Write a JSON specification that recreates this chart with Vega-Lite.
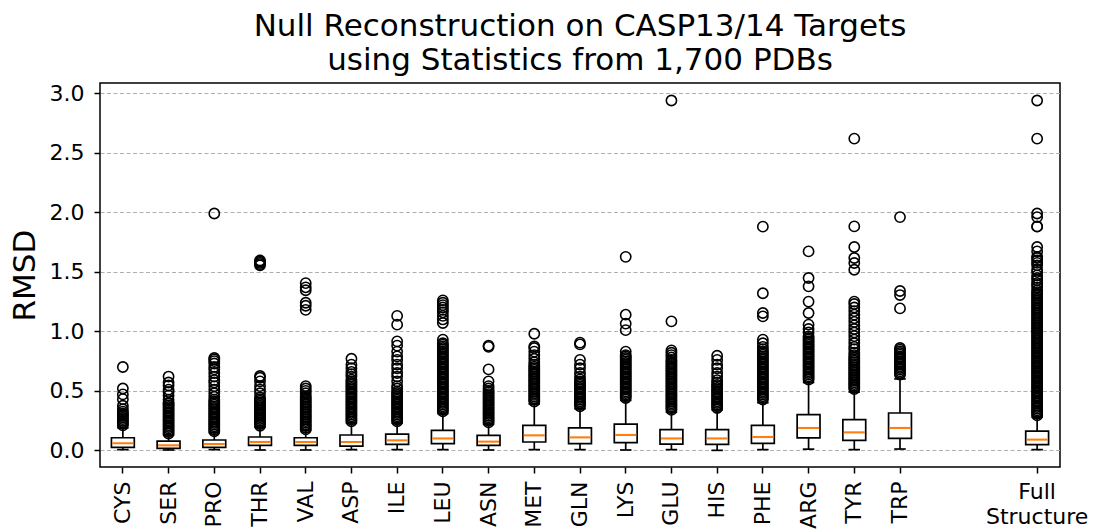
{
  "$schema": "https://vega.github.io/schema/vega-lite/v6.json",
  "autosize": {"type": "none"},
  "padding": {"left": 100, "top": 83, "right": 34, "bottom": 62},
  "width": 960,
  "height": 384,
  "config": {
    "font": "DejaVu Sans",
    "view": {"stroke": "black", "strokeWidth": 1.5},
    "axis": {"labelFont": "DejaVu Sans", "titleFont": "DejaVu Sans", "labelColor": "black", "titleColor": "black", "tickColor": "black", "domain": false}
  },
  "title": {
    "text": ["Null Reconstruction on CASP13/14 Targets", "using Statistics from 1,700 PDBs"],
    "fontSize": 31,
    "fontWeight": "normal",
    "font": "DejaVu Sans",
    "color": "black",
    "lineHeight": 34,
    "anchor": "middle",
    "offset": 5
  },
  "datasets": {
    "boxes": [
      {"residue": "CYS", "lo": 0.006, "q1": 0.025, "median": 0.059, "q3": 0.106, "hi": 0.19},
      {"residue": "SER", "lo": 0.003, "q1": 0.017, "median": 0.042, "q3": 0.078, "hi": 0.13},
      {"residue": "PRO", "lo": 0.006, "q1": 0.025, "median": 0.053, "q3": 0.087, "hi": 0.15},
      {"residue": "THR", "lo": 0.003, "q1": 0.042, "median": 0.07, "q3": 0.112, "hi": 0.195},
      {"residue": "VAL", "lo": 0.003, "q1": 0.042, "median": 0.07, "q3": 0.106, "hi": 0.17},
      {"residue": "ASP", "lo": 0.006, "q1": 0.036, "median": 0.07, "q3": 0.129, "hi": 0.23},
      {"residue": "ILE", "lo": 0.006, "q1": 0.05, "median": 0.084, "q3": 0.137, "hi": 0.23},
      {"residue": "LEU", "lo": 0.006, "q1": 0.056, "median": 0.1, "q3": 0.168, "hi": 0.31},
      {"residue": "ASN", "lo": 0.003, "q1": 0.042, "median": 0.073, "q3": 0.126, "hi": 0.22},
      {"residue": "MET", "lo": 0.006, "q1": 0.07, "median": 0.126, "q3": 0.21, "hi": 0.39},
      {"residue": "GLN", "lo": 0.006, "q1": 0.056, "median": 0.109, "q3": 0.188, "hi": 0.35},
      {"residue": "LYS", "lo": 0.003, "q1": 0.064, "median": 0.129, "q3": 0.22, "hi": 0.42},
      {"residue": "GLU", "lo": 0.006, "q1": 0.053, "median": 0.1, "q3": 0.174, "hi": 0.32},
      {"residue": "HIS", "lo": 0.0, "q1": 0.05, "median": 0.1, "q3": 0.174, "hi": 0.34},
      {"residue": "PHE", "lo": 0.006, "q1": 0.059, "median": 0.112, "q3": 0.21, "hi": 0.4},
      {"residue": "ARG", "lo": 0.01, "q1": 0.104, "median": 0.188, "q3": 0.3, "hi": 0.57},
      {"residue": "TYR", "lo": 0.006, "q1": 0.084, "median": 0.151, "q3": 0.258, "hi": 0.49},
      {"residue": "TRP", "lo": 0.011, "q1": 0.1, "median": 0.188, "q3": 0.314, "hi": 0.6},
      {"residue": "Full Structure", "lo": 0.006, "q1": 0.048, "median": 0.09, "q3": 0.162, "hi": 0.28}
    ],
    "outliers": [
      {"residue": "CYS", "rmsd": 0.21}, {"residue": "CYS", "rmsd": 0.223}, {"residue": "CYS", "rmsd": 0.236}, {"residue": "CYS", "rmsd": 0.249}, {"residue": "CYS", "rmsd": 0.262}, {"residue": "CYS", "rmsd": 0.275}, {"residue": "CYS", "rmsd": 0.288}, {"residue": "CYS", "rmsd": 0.3}, {"residue": "CYS", "rmsd": 0.31}, {"residue": "CYS", "rmsd": 0.325}, {"residue": "CYS", "rmsd": 0.345}, {"residue": "CYS", "rmsd": 0.375}, {"residue": "CYS", "rmsd": 0.43}, {"residue": "CYS", "rmsd": 0.47}, {"residue": "CYS", "rmsd": 0.52}, {"residue": "CYS", "rmsd": 0.7},

      {"residue": "SER", "rmsd": 0.14}, {"residue": "SER", "rmsd": 0.154}, {"residue": "SER", "rmsd": 0.168}, {"residue": "SER", "rmsd": 0.182}, {"residue": "SER", "rmsd": 0.196}, {"residue": "SER", "rmsd": 0.21}, {"residue": "SER", "rmsd": 0.224}, {"residue": "SER", "rmsd": 0.238}, {"residue": "SER", "rmsd": 0.252}, {"residue": "SER", "rmsd": 0.266}, {"residue": "SER", "rmsd": 0.28}, {"residue": "SER", "rmsd": 0.294}, {"residue": "SER", "rmsd": 0.308}, {"residue": "SER", "rmsd": 0.322}, {"residue": "SER", "rmsd": 0.336}, {"residue": "SER", "rmsd": 0.35}, {"residue": "SER", "rmsd": 0.364}, {"residue": "SER", "rmsd": 0.378}, {"residue": "SER", "rmsd": 0.392}, {"residue": "SER", "rmsd": 0.4}, {"residue": "SER", "rmsd": 0.425}, {"residue": "SER", "rmsd": 0.46}, {"residue": "SER", "rmsd": 0.49}, {"residue": "SER", "rmsd": 0.51}, {"residue": "SER", "rmsd": 0.545}, {"residue": "SER", "rmsd": 0.57}, {"residue": "SER", "rmsd": 0.62},

      {"residue": "PRO", "rmsd": 0.16}, {"residue": "PRO", "rmsd": 0.174}, {"residue": "PRO", "rmsd": 0.188}, {"residue": "PRO", "rmsd": 0.202}, {"residue": "PRO", "rmsd": 0.216}, {"residue": "PRO", "rmsd": 0.23}, {"residue": "PRO", "rmsd": 0.244}, {"residue": "PRO", "rmsd": 0.258}, {"residue": "PRO", "rmsd": 0.272}, {"residue": "PRO", "rmsd": 0.286}, {"residue": "PRO", "rmsd": 0.3}, {"residue": "PRO", "rmsd": 0.314}, {"residue": "PRO", "rmsd": 0.328}, {"residue": "PRO", "rmsd": 0.342}, {"residue": "PRO", "rmsd": 0.356}, {"residue": "PRO", "rmsd": 0.37}, {"residue": "PRO", "rmsd": 0.384}, {"residue": "PRO", "rmsd": 0.398}, {"residue": "PRO", "rmsd": 0.412}, {"residue": "PRO", "rmsd": 0.426}, {"residue": "PRO", "rmsd": 0.45}, {"residue": "PRO", "rmsd": 0.48}, {"residue": "PRO", "rmsd": 0.51}, {"residue": "PRO", "rmsd": 0.54}, {"residue": "PRO", "rmsd": 0.57}, {"residue": "PRO", "rmsd": 0.59}, {"residue": "PRO", "rmsd": 0.62}, {"residue": "PRO", "rmsd": 0.65}, {"residue": "PRO", "rmsd": 0.68}, {"residue": "PRO", "rmsd": 0.7}, {"residue": "PRO", "rmsd": 0.73}, {"residue": "PRO", "rmsd": 0.75}, {"residue": "PRO", "rmsd": 0.765}, {"residue": "PRO", "rmsd": 0.776}, {"residue": "PRO", "rmsd": 1.99},

      {"residue": "THR", "rmsd": 0.207}, {"residue": "THR", "rmsd": 0.221}, {"residue": "THR", "rmsd": 0.235}, {"residue": "THR", "rmsd": 0.249}, {"residue": "THR", "rmsd": 0.263}, {"residue": "THR", "rmsd": 0.277}, {"residue": "THR", "rmsd": 0.291}, {"residue": "THR", "rmsd": 0.305}, {"residue": "THR", "rmsd": 0.319}, {"residue": "THR", "rmsd": 0.333}, {"residue": "THR", "rmsd": 0.347}, {"residue": "THR", "rmsd": 0.361}, {"residue": "THR", "rmsd": 0.375}, {"residue": "THR", "rmsd": 0.389}, {"residue": "THR", "rmsd": 0.403}, {"residue": "THR", "rmsd": 0.417}, {"residue": "THR", "rmsd": 0.431}, {"residue": "THR", "rmsd": 0.445}, {"residue": "THR", "rmsd": 0.48}, {"residue": "THR", "rmsd": 0.51}, {"residue": "THR", "rmsd": 0.54}, {"residue": "THR", "rmsd": 0.58}, {"residue": "THR", "rmsd": 0.61}, {"residue": "THR", "rmsd": 0.625}, {"residue": "THR", "rmsd": 1.555}, {"residue": "THR", "rmsd": 1.565}, {"residue": "THR", "rmsd": 1.575}, {"residue": "THR", "rmsd": 1.585}, {"residue": "THR", "rmsd": 1.595},

      {"residue": "VAL", "rmsd": 0.176}, {"residue": "VAL", "rmsd": 0.19}, {"residue": "VAL", "rmsd": 0.204}, {"residue": "VAL", "rmsd": 0.218}, {"residue": "VAL", "rmsd": 0.232}, {"residue": "VAL", "rmsd": 0.246}, {"residue": "VAL", "rmsd": 0.26}, {"residue": "VAL", "rmsd": 0.274}, {"residue": "VAL", "rmsd": 0.288}, {"residue": "VAL", "rmsd": 0.302}, {"residue": "VAL", "rmsd": 0.316}, {"residue": "VAL", "rmsd": 0.33}, {"residue": "VAL", "rmsd": 0.344}, {"residue": "VAL", "rmsd": 0.358}, {"residue": "VAL", "rmsd": 0.372}, {"residue": "VAL", "rmsd": 0.386}, {"residue": "VAL", "rmsd": 0.4}, {"residue": "VAL", "rmsd": 0.414}, {"residue": "VAL", "rmsd": 0.428}, {"residue": "VAL", "rmsd": 0.442}, {"residue": "VAL", "rmsd": 0.456}, {"residue": "VAL", "rmsd": 0.48}, {"residue": "VAL", "rmsd": 0.5}, {"residue": "VAL", "rmsd": 0.52}, {"residue": "VAL", "rmsd": 0.54}, {"residue": "VAL", "rmsd": 1.18}, {"residue": "VAL", "rmsd": 1.215}, {"residue": "VAL", "rmsd": 1.24}, {"residue": "VAL", "rmsd": 1.345}, {"residue": "VAL", "rmsd": 1.37}, {"residue": "VAL", "rmsd": 1.405},

      {"residue": "ASP", "rmsd": 0.244}, {"residue": "ASP", "rmsd": 0.258}, {"residue": "ASP", "rmsd": 0.272}, {"residue": "ASP", "rmsd": 0.286}, {"residue": "ASP", "rmsd": 0.3}, {"residue": "ASP", "rmsd": 0.314}, {"residue": "ASP", "rmsd": 0.328}, {"residue": "ASP", "rmsd": 0.342}, {"residue": "ASP", "rmsd": 0.356}, {"residue": "ASP", "rmsd": 0.37}, {"residue": "ASP", "rmsd": 0.384}, {"residue": "ASP", "rmsd": 0.398}, {"residue": "ASP", "rmsd": 0.412}, {"residue": "ASP", "rmsd": 0.426}, {"residue": "ASP", "rmsd": 0.44}, {"residue": "ASP", "rmsd": 0.454}, {"residue": "ASP", "rmsd": 0.468}, {"residue": "ASP", "rmsd": 0.482}, {"residue": "ASP", "rmsd": 0.496}, {"residue": "ASP", "rmsd": 0.51}, {"residue": "ASP", "rmsd": 0.524}, {"residue": "ASP", "rmsd": 0.538}, {"residue": "ASP", "rmsd": 0.552}, {"residue": "ASP", "rmsd": 0.566}, {"residue": "ASP", "rmsd": 0.58}, {"residue": "ASP", "rmsd": 0.594}, {"residue": "ASP", "rmsd": 0.62}, {"residue": "ASP", "rmsd": 0.64}, {"residue": "ASP", "rmsd": 0.66}, {"residue": "ASP", "rmsd": 0.69}, {"residue": "ASP", "rmsd": 0.72}, {"residue": "ASP", "rmsd": 0.77},

      {"residue": "ILE", "rmsd": 0.244}, {"residue": "ILE", "rmsd": 0.258}, {"residue": "ILE", "rmsd": 0.272}, {"residue": "ILE", "rmsd": 0.286}, {"residue": "ILE", "rmsd": 0.3}, {"residue": "ILE", "rmsd": 0.314}, {"residue": "ILE", "rmsd": 0.328}, {"residue": "ILE", "rmsd": 0.342}, {"residue": "ILE", "rmsd": 0.356}, {"residue": "ILE", "rmsd": 0.37}, {"residue": "ILE", "rmsd": 0.384}, {"residue": "ILE", "rmsd": 0.398}, {"residue": "ILE", "rmsd": 0.412}, {"residue": "ILE", "rmsd": 0.426}, {"residue": "ILE", "rmsd": 0.44}, {"residue": "ILE", "rmsd": 0.454}, {"residue": "ILE", "rmsd": 0.468}, {"residue": "ILE", "rmsd": 0.482}, {"residue": "ILE", "rmsd": 0.496}, {"residue": "ILE", "rmsd": 0.52}, {"residue": "ILE", "rmsd": 0.54}, {"residue": "ILE", "rmsd": 0.58}, {"residue": "ILE", "rmsd": 0.62}, {"residue": "ILE", "rmsd": 0.65}, {"residue": "ILE", "rmsd": 0.69}, {"residue": "ILE", "rmsd": 0.72}, {"residue": "ILE", "rmsd": 0.76}, {"residue": "ILE", "rmsd": 0.79}, {"residue": "ILE", "rmsd": 0.83}, {"residue": "ILE", "rmsd": 0.88}, {"residue": "ILE", "rmsd": 0.916}, {"residue": "ILE", "rmsd": 1.056}, {"residue": "ILE", "rmsd": 1.13},

      {"residue": "LEU", "rmsd": 0.328}, {"residue": "LEU", "rmsd": 0.342}, {"residue": "LEU", "rmsd": 0.356}, {"residue": "LEU", "rmsd": 0.37}, {"residue": "LEU", "rmsd": 0.384}, {"residue": "LEU", "rmsd": 0.398}, {"residue": "LEU", "rmsd": 0.412}, {"residue": "LEU", "rmsd": 0.426}, {"residue": "LEU", "rmsd": 0.44}, {"residue": "LEU", "rmsd": 0.454}, {"residue": "LEU", "rmsd": 0.468}, {"residue": "LEU", "rmsd": 0.482}, {"residue": "LEU", "rmsd": 0.496}, {"residue": "LEU", "rmsd": 0.51}, {"residue": "LEU", "rmsd": 0.524}, {"residue": "LEU", "rmsd": 0.538}, {"residue": "LEU", "rmsd": 0.552}, {"residue": "LEU", "rmsd": 0.566}, {"residue": "LEU", "rmsd": 0.58}, {"residue": "LEU", "rmsd": 0.594}, {"residue": "LEU", "rmsd": 0.608}, {"residue": "LEU", "rmsd": 0.622}, {"residue": "LEU", "rmsd": 0.636}, {"residue": "LEU", "rmsd": 0.65}, {"residue": "LEU", "rmsd": 0.664}, {"residue": "LEU", "rmsd": 0.678}, {"residue": "LEU", "rmsd": 0.692}, {"residue": "LEU", "rmsd": 0.706}, {"residue": "LEU", "rmsd": 0.72}, {"residue": "LEU", "rmsd": 0.734}, {"residue": "LEU", "rmsd": 0.748}, {"residue": "LEU", "rmsd": 0.762}, {"residue": "LEU", "rmsd": 0.776}, {"residue": "LEU", "rmsd": 0.79}, {"residue": "LEU", "rmsd": 0.804}, {"residue": "LEU", "rmsd": 0.818}, {"residue": "LEU", "rmsd": 0.832}, {"residue": "LEU", "rmsd": 0.846}, {"residue": "LEU", "rmsd": 0.86}, {"residue": "LEU", "rmsd": 0.874}, {"residue": "LEU", "rmsd": 0.888}, {"residue": "LEU", "rmsd": 0.9}, {"residue": "LEU", "rmsd": 0.93}, {"residue": "LEU", "rmsd": 1.07}, {"residue": "LEU", "rmsd": 1.1}, {"residue": "LEU", "rmsd": 1.13}, {"residue": "LEU", "rmsd": 1.16}, {"residue": "LEU", "rmsd": 1.18}, {"residue": "LEU", "rmsd": 1.2}, {"residue": "LEU", "rmsd": 1.22}, {"residue": "LEU", "rmsd": 1.24}, {"residue": "LEU", "rmsd": 1.26},

      {"residue": "ASN", "rmsd": 0.235}, {"residue": "ASN", "rmsd": 0.249}, {"residue": "ASN", "rmsd": 0.263}, {"residue": "ASN", "rmsd": 0.277}, {"residue": "ASN", "rmsd": 0.291}, {"residue": "ASN", "rmsd": 0.305}, {"residue": "ASN", "rmsd": 0.319}, {"residue": "ASN", "rmsd": 0.333}, {"residue": "ASN", "rmsd": 0.347}, {"residue": "ASN", "rmsd": 0.361}, {"residue": "ASN", "rmsd": 0.375}, {"residue": "ASN", "rmsd": 0.389}, {"residue": "ASN", "rmsd": 0.403}, {"residue": "ASN", "rmsd": 0.417}, {"residue": "ASN", "rmsd": 0.431}, {"residue": "ASN", "rmsd": 0.445}, {"residue": "ASN", "rmsd": 0.459}, {"residue": "ASN", "rmsd": 0.473}, {"residue": "ASN", "rmsd": 0.487}, {"residue": "ASN", "rmsd": 0.5}, {"residue": "ASN", "rmsd": 0.52}, {"residue": "ASN", "rmsd": 0.54}, {"residue": "ASN", "rmsd": 0.58}, {"residue": "ASN", "rmsd": 0.68}, {"residue": "ASN", "rmsd": 0.87}, {"residue": "ASN", "rmsd": 0.88},

      {"residue": "MET", "rmsd": 0.41}, {"residue": "MET", "rmsd": 0.424}, {"residue": "MET", "rmsd": 0.438}, {"residue": "MET", "rmsd": 0.452}, {"residue": "MET", "rmsd": 0.466}, {"residue": "MET", "rmsd": 0.48}, {"residue": "MET", "rmsd": 0.494}, {"residue": "MET", "rmsd": 0.508}, {"residue": "MET", "rmsd": 0.522}, {"residue": "MET", "rmsd": 0.536}, {"residue": "MET", "rmsd": 0.55}, {"residue": "MET", "rmsd": 0.564}, {"residue": "MET", "rmsd": 0.578}, {"residue": "MET", "rmsd": 0.592}, {"residue": "MET", "rmsd": 0.606}, {"residue": "MET", "rmsd": 0.62}, {"residue": "MET", "rmsd": 0.634}, {"residue": "MET", "rmsd": 0.648}, {"residue": "MET", "rmsd": 0.662}, {"residue": "MET", "rmsd": 0.676}, {"residue": "MET", "rmsd": 0.69}, {"residue": "MET", "rmsd": 0.704}, {"residue": "MET", "rmsd": 0.72}, {"residue": "MET", "rmsd": 0.74}, {"residue": "MET", "rmsd": 0.77}, {"residue": "MET", "rmsd": 0.8}, {"residue": "MET", "rmsd": 0.83}, {"residue": "MET", "rmsd": 0.86}, {"residue": "MET", "rmsd": 0.874}, {"residue": "MET", "rmsd": 0.98},

      {"residue": "GLN", "rmsd": 0.37}, {"residue": "GLN", "rmsd": 0.384}, {"residue": "GLN", "rmsd": 0.398}, {"residue": "GLN", "rmsd": 0.412}, {"residue": "GLN", "rmsd": 0.426}, {"residue": "GLN", "rmsd": 0.44}, {"residue": "GLN", "rmsd": 0.454}, {"residue": "GLN", "rmsd": 0.468}, {"residue": "GLN", "rmsd": 0.482}, {"residue": "GLN", "rmsd": 0.496}, {"residue": "GLN", "rmsd": 0.51}, {"residue": "GLN", "rmsd": 0.524}, {"residue": "GLN", "rmsd": 0.538}, {"residue": "GLN", "rmsd": 0.552}, {"residue": "GLN", "rmsd": 0.566}, {"residue": "GLN", "rmsd": 0.58}, {"residue": "GLN", "rmsd": 0.596}, {"residue": "GLN", "rmsd": 0.62}, {"residue": "GLN", "rmsd": 0.65}, {"residue": "GLN", "rmsd": 0.69}, {"residue": "GLN", "rmsd": 0.72}, {"residue": "GLN", "rmsd": 0.76}, {"residue": "GLN", "rmsd": 0.89}, {"residue": "GLN", "rmsd": 0.905},

      {"residue": "LYS", "rmsd": 0.44}, {"residue": "LYS", "rmsd": 0.454}, {"residue": "LYS", "rmsd": 0.468}, {"residue": "LYS", "rmsd": 0.482}, {"residue": "LYS", "rmsd": 0.496}, {"residue": "LYS", "rmsd": 0.51}, {"residue": "LYS", "rmsd": 0.524}, {"residue": "LYS", "rmsd": 0.538}, {"residue": "LYS", "rmsd": 0.552}, {"residue": "LYS", "rmsd": 0.566}, {"residue": "LYS", "rmsd": 0.58}, {"residue": "LYS", "rmsd": 0.594}, {"residue": "LYS", "rmsd": 0.608}, {"residue": "LYS", "rmsd": 0.622}, {"residue": "LYS", "rmsd": 0.636}, {"residue": "LYS", "rmsd": 0.65}, {"residue": "LYS", "rmsd": 0.664}, {"residue": "LYS", "rmsd": 0.678}, {"residue": "LYS", "rmsd": 0.692}, {"residue": "LYS", "rmsd": 0.706}, {"residue": "LYS", "rmsd": 0.72}, {"residue": "LYS", "rmsd": 0.734}, {"residue": "LYS", "rmsd": 0.748}, {"residue": "LYS", "rmsd": 0.762}, {"residue": "LYS", "rmsd": 0.776}, {"residue": "LYS", "rmsd": 0.79}, {"residue": "LYS", "rmsd": 0.8}, {"residue": "LYS", "rmsd": 0.83}, {"residue": "LYS", "rmsd": 1.01}, {"residue": "LYS", "rmsd": 1.065}, {"residue": "LYS", "rmsd": 1.14}, {"residue": "LYS", "rmsd": 1.626},

      {"residue": "GLU", "rmsd": 0.34}, {"residue": "GLU", "rmsd": 0.354}, {"residue": "GLU", "rmsd": 0.368}, {"residue": "GLU", "rmsd": 0.382}, {"residue": "GLU", "rmsd": 0.396}, {"residue": "GLU", "rmsd": 0.41}, {"residue": "GLU", "rmsd": 0.424}, {"residue": "GLU", "rmsd": 0.438}, {"residue": "GLU", "rmsd": 0.452}, {"residue": "GLU", "rmsd": 0.466}, {"residue": "GLU", "rmsd": 0.48}, {"residue": "GLU", "rmsd": 0.494}, {"residue": "GLU", "rmsd": 0.508}, {"residue": "GLU", "rmsd": 0.522}, {"residue": "GLU", "rmsd": 0.536}, {"residue": "GLU", "rmsd": 0.55}, {"residue": "GLU", "rmsd": 0.564}, {"residue": "GLU", "rmsd": 0.578}, {"residue": "GLU", "rmsd": 0.592}, {"residue": "GLU", "rmsd": 0.606}, {"residue": "GLU", "rmsd": 0.62}, {"residue": "GLU", "rmsd": 0.634}, {"residue": "GLU", "rmsd": 0.648}, {"residue": "GLU", "rmsd": 0.662}, {"residue": "GLU", "rmsd": 0.676}, {"residue": "GLU", "rmsd": 0.69}, {"residue": "GLU", "rmsd": 0.704}, {"residue": "GLU", "rmsd": 0.718}, {"residue": "GLU", "rmsd": 0.732}, {"residue": "GLU", "rmsd": 0.746}, {"residue": "GLU", "rmsd": 0.76}, {"residue": "GLU", "rmsd": 0.78}, {"residue": "GLU", "rmsd": 0.8}, {"residue": "GLU", "rmsd": 0.82}, {"residue": "GLU", "rmsd": 0.84}, {"residue": "GLU", "rmsd": 1.084}, {"residue": "GLU", "rmsd": 2.94},

      {"residue": "HIS", "rmsd": 0.356}, {"residue": "HIS", "rmsd": 0.37}, {"residue": "HIS", "rmsd": 0.384}, {"residue": "HIS", "rmsd": 0.398}, {"residue": "HIS", "rmsd": 0.412}, {"residue": "HIS", "rmsd": 0.426}, {"residue": "HIS", "rmsd": 0.44}, {"residue": "HIS", "rmsd": 0.454}, {"residue": "HIS", "rmsd": 0.468}, {"residue": "HIS", "rmsd": 0.482}, {"residue": "HIS", "rmsd": 0.496}, {"residue": "HIS", "rmsd": 0.51}, {"residue": "HIS", "rmsd": 0.524}, {"residue": "HIS", "rmsd": 0.54}, {"residue": "HIS", "rmsd": 0.55}, {"residue": "HIS", "rmsd": 0.57}, {"residue": "HIS", "rmsd": 0.59}, {"residue": "HIS", "rmsd": 0.62}, {"residue": "HIS", "rmsd": 0.65}, {"residue": "HIS", "rmsd": 0.69}, {"residue": "HIS", "rmsd": 0.72}, {"residue": "HIS", "rmsd": 0.76}, {"residue": "HIS", "rmsd": 0.795},

      {"residue": "PHE", "rmsd": 0.426}, {"residue": "PHE", "rmsd": 0.44}, {"residue": "PHE", "rmsd": 0.454}, {"residue": "PHE", "rmsd": 0.468}, {"residue": "PHE", "rmsd": 0.482}, {"residue": "PHE", "rmsd": 0.496}, {"residue": "PHE", "rmsd": 0.51}, {"residue": "PHE", "rmsd": 0.524}, {"residue": "PHE", "rmsd": 0.538}, {"residue": "PHE", "rmsd": 0.552}, {"residue": "PHE", "rmsd": 0.566}, {"residue": "PHE", "rmsd": 0.58}, {"residue": "PHE", "rmsd": 0.594}, {"residue": "PHE", "rmsd": 0.608}, {"residue": "PHE", "rmsd": 0.622}, {"residue": "PHE", "rmsd": 0.636}, {"residue": "PHE", "rmsd": 0.65}, {"residue": "PHE", "rmsd": 0.664}, {"residue": "PHE", "rmsd": 0.678}, {"residue": "PHE", "rmsd": 0.692}, {"residue": "PHE", "rmsd": 0.706}, {"residue": "PHE", "rmsd": 0.72}, {"residue": "PHE", "rmsd": 0.734}, {"residue": "PHE", "rmsd": 0.748}, {"residue": "PHE", "rmsd": 0.762}, {"residue": "PHE", "rmsd": 0.776}, {"residue": "PHE", "rmsd": 0.79}, {"residue": "PHE", "rmsd": 0.804}, {"residue": "PHE", "rmsd": 0.818}, {"residue": "PHE", "rmsd": 0.832}, {"residue": "PHE", "rmsd": 0.85}, {"residue": "PHE", "rmsd": 0.87}, {"residue": "PHE", "rmsd": 0.9}, {"residue": "PHE", "rmsd": 0.93}, {"residue": "PHE", "rmsd": 1.126}, {"residue": "PHE", "rmsd": 1.154}, {"residue": "PHE", "rmsd": 1.32}, {"residue": "PHE", "rmsd": 1.88},

      {"residue": "ARG", "rmsd": 0.594}, {"residue": "ARG", "rmsd": 0.608}, {"residue": "ARG", "rmsd": 0.622}, {"residue": "ARG", "rmsd": 0.636}, {"residue": "ARG", "rmsd": 0.65}, {"residue": "ARG", "rmsd": 0.664}, {"residue": "ARG", "rmsd": 0.678}, {"residue": "ARG", "rmsd": 0.692}, {"residue": "ARG", "rmsd": 0.706}, {"residue": "ARG", "rmsd": 0.72}, {"residue": "ARG", "rmsd": 0.734}, {"residue": "ARG", "rmsd": 0.748}, {"residue": "ARG", "rmsd": 0.762}, {"residue": "ARG", "rmsd": 0.776}, {"residue": "ARG", "rmsd": 0.79}, {"residue": "ARG", "rmsd": 0.804}, {"residue": "ARG", "rmsd": 0.818}, {"residue": "ARG", "rmsd": 0.832}, {"residue": "ARG", "rmsd": 0.846}, {"residue": "ARG", "rmsd": 0.86}, {"residue": "ARG", "rmsd": 0.874}, {"residue": "ARG", "rmsd": 0.888}, {"residue": "ARG", "rmsd": 0.902}, {"residue": "ARG", "rmsd": 0.916}, {"residue": "ARG", "rmsd": 0.93}, {"residue": "ARG", "rmsd": 0.944}, {"residue": "ARG", "rmsd": 0.958}, {"residue": "ARG", "rmsd": 0.99}, {"residue": "ARG", "rmsd": 1.02}, {"residue": "ARG", "rmsd": 1.056}, {"residue": "ARG", "rmsd": 1.154}, {"residue": "ARG", "rmsd": 1.25}, {"residue": "ARG", "rmsd": 1.378}, {"residue": "ARG", "rmsd": 1.448}, {"residue": "ARG", "rmsd": 1.672},

      {"residue": "TYR", "rmsd": 0.515}, {"residue": "TYR", "rmsd": 0.529}, {"residue": "TYR", "rmsd": 0.543}, {"residue": "TYR", "rmsd": 0.557}, {"residue": "TYR", "rmsd": 0.571}, {"residue": "TYR", "rmsd": 0.585}, {"residue": "TYR", "rmsd": 0.599}, {"residue": "TYR", "rmsd": 0.613}, {"residue": "TYR", "rmsd": 0.627}, {"residue": "TYR", "rmsd": 0.641}, {"residue": "TYR", "rmsd": 0.655}, {"residue": "TYR", "rmsd": 0.669}, {"residue": "TYR", "rmsd": 0.683}, {"residue": "TYR", "rmsd": 0.697}, {"residue": "TYR", "rmsd": 0.711}, {"residue": "TYR", "rmsd": 0.725}, {"residue": "TYR", "rmsd": 0.739}, {"residue": "TYR", "rmsd": 0.753}, {"residue": "TYR", "rmsd": 0.767}, {"residue": "TYR", "rmsd": 0.781}, {"residue": "TYR", "rmsd": 0.8}, {"residue": "TYR", "rmsd": 0.82}, {"residue": "TYR", "rmsd": 0.85}, {"residue": "TYR", "rmsd": 0.87}, {"residue": "TYR", "rmsd": 0.9}, {"residue": "TYR", "rmsd": 0.93}, {"residue": "TYR", "rmsd": 0.96}, {"residue": "TYR", "rmsd": 0.99}, {"residue": "TYR", "rmsd": 1.02}, {"residue": "TYR", "rmsd": 1.05}, {"residue": "TYR", "rmsd": 1.08}, {"residue": "TYR", "rmsd": 1.11}, {"residue": "TYR", "rmsd": 1.14}, {"residue": "TYR", "rmsd": 1.17}, {"residue": "TYR", "rmsd": 1.2}, {"residue": "TYR", "rmsd": 1.23}, {"residue": "TYR", "rmsd": 1.25}, {"residue": "TYR", "rmsd": 1.518}, {"residue": "TYR", "rmsd": 1.574}, {"residue": "TYR", "rmsd": 1.616}, {"residue": "TYR", "rmsd": 1.709}, {"residue": "TYR", "rmsd": 1.882}, {"residue": "TYR", "rmsd": 2.62},

      {"residue": "TRP", "rmsd": 0.636}, {"residue": "TRP", "rmsd": 0.65}, {"residue": "TRP", "rmsd": 0.664}, {"residue": "TRP", "rmsd": 0.678}, {"residue": "TRP", "rmsd": 0.692}, {"residue": "TRP", "rmsd": 0.706}, {"residue": "TRP", "rmsd": 0.72}, {"residue": "TRP", "rmsd": 0.734}, {"residue": "TRP", "rmsd": 0.748}, {"residue": "TRP", "rmsd": 0.762}, {"residue": "TRP", "rmsd": 0.776}, {"residue": "TRP", "rmsd": 0.79}, {"residue": "TRP", "rmsd": 0.804}, {"residue": "TRP", "rmsd": 0.818}, {"residue": "TRP", "rmsd": 0.832}, {"residue": "TRP", "rmsd": 0.846}, {"residue": "TRP", "rmsd": 0.86}, {"residue": "TRP", "rmsd": 1.193}, {"residue": "TRP", "rmsd": 1.305}, {"residue": "TRP", "rmsd": 1.339}, {"residue": "TRP", "rmsd": 1.96},

      {"residue": "Full Structure", "rmsd": 0.294}, {"residue": "Full Structure", "rmsd": 0.308}, {"residue": "Full Structure", "rmsd": 0.322}, {"residue": "Full Structure", "rmsd": 0.336}, {"residue": "Full Structure", "rmsd": 0.35}, {"residue": "Full Structure", "rmsd": 0.364}, {"residue": "Full Structure", "rmsd": 0.378}, {"residue": "Full Structure", "rmsd": 0.392}, {"residue": "Full Structure", "rmsd": 0.406}, {"residue": "Full Structure", "rmsd": 0.42}, {"residue": "Full Structure", "rmsd": 0.434}, {"residue": "Full Structure", "rmsd": 0.448}, {"residue": "Full Structure", "rmsd": 0.462}, {"residue": "Full Structure", "rmsd": 0.476}, {"residue": "Full Structure", "rmsd": 0.49}, {"residue": "Full Structure", "rmsd": 0.504}, {"residue": "Full Structure", "rmsd": 0.518}, {"residue": "Full Structure", "rmsd": 0.532}, {"residue": "Full Structure", "rmsd": 0.546}, {"residue": "Full Structure", "rmsd": 0.56}, {"residue": "Full Structure", "rmsd": 0.574}, {"residue": "Full Structure", "rmsd": 0.588}, {"residue": "Full Structure", "rmsd": 0.602}, {"residue": "Full Structure", "rmsd": 0.616}, {"residue": "Full Structure", "rmsd": 0.63}, {"residue": "Full Structure", "rmsd": 0.644}, {"residue": "Full Structure", "rmsd": 0.658}, {"residue": "Full Structure", "rmsd": 0.672}, {"residue": "Full Structure", "rmsd": 0.686}, {"residue": "Full Structure", "rmsd": 0.7}, {"residue": "Full Structure", "rmsd": 0.714}, {"residue": "Full Structure", "rmsd": 0.728}, {"residue": "Full Structure", "rmsd": 0.742}, {"residue": "Full Structure", "rmsd": 0.756}, {"residue": "Full Structure", "rmsd": 0.77}, {"residue": "Full Structure", "rmsd": 0.784}, {"residue": "Full Structure", "rmsd": 0.798}, {"residue": "Full Structure", "rmsd": 0.812}, {"residue": "Full Structure", "rmsd": 0.826}, {"residue": "Full Structure", "rmsd": 0.84}, {"residue": "Full Structure", "rmsd": 0.854}, {"residue": "Full Structure", "rmsd": 0.868}, {"residue": "Full Structure", "rmsd": 0.882}, {"residue": "Full Structure", "rmsd": 0.896}, {"residue": "Full Structure", "rmsd": 0.91}, {"residue": "Full Structure", "rmsd": 0.924}, {"residue": "Full Structure", "rmsd": 0.938}, {"residue": "Full Structure", "rmsd": 0.952}, {"residue": "Full Structure", "rmsd": 0.966}, {"residue": "Full Structure", "rmsd": 0.98}, {"residue": "Full Structure", "rmsd": 0.994}, {"residue": "Full Structure", "rmsd": 1.008}, {"residue": "Full Structure", "rmsd": 1.022}, {"residue": "Full Structure", "rmsd": 1.036}, {"residue": "Full Structure", "rmsd": 1.05}, {"residue": "Full Structure", "rmsd": 1.064}, {"residue": "Full Structure", "rmsd": 1.078}, {"residue": "Full Structure", "rmsd": 1.092}, {"residue": "Full Structure", "rmsd": 1.106}, {"residue": "Full Structure", "rmsd": 1.12}, {"residue": "Full Structure", "rmsd": 1.134}, {"residue": "Full Structure", "rmsd": 1.148}, {"residue": "Full Structure", "rmsd": 1.162}, {"residue": "Full Structure", "rmsd": 1.176}, {"residue": "Full Structure", "rmsd": 1.19}, {"residue": "Full Structure", "rmsd": 1.204}, {"residue": "Full Structure", "rmsd": 1.218}, {"residue": "Full Structure", "rmsd": 1.232}, {"residue": "Full Structure", "rmsd": 1.246}, {"residue": "Full Structure", "rmsd": 1.26}, {"residue": "Full Structure", "rmsd": 1.274}, {"residue": "Full Structure", "rmsd": 1.288}, {"residue": "Full Structure", "rmsd": 1.302}, {"residue": "Full Structure", "rmsd": 1.316}, {"residue": "Full Structure", "rmsd": 1.33}, {"residue": "Full Structure", "rmsd": 1.345}, {"residue": "Full Structure", "rmsd": 1.37}, {"residue": "Full Structure", "rmsd": 1.39}, {"residue": "Full Structure", "rmsd": 1.405}, {"residue": "Full Structure", "rmsd": 1.43}, {"residue": "Full Structure", "rmsd": 1.448}, {"residue": "Full Structure", "rmsd": 1.47}, {"residue": "Full Structure", "rmsd": 1.5}, {"residue": "Full Structure", "rmsd": 1.518}, {"residue": "Full Structure", "rmsd": 1.555}, {"residue": "Full Structure", "rmsd": 1.575}, {"residue": "Full Structure", "rmsd": 1.595}, {"residue": "Full Structure", "rmsd": 1.616}, {"residue": "Full Structure", "rmsd": 1.626}, {"residue": "Full Structure", "rmsd": 1.672}, {"residue": "Full Structure", "rmsd": 1.709}, {"residue": "Full Structure", "rmsd": 1.882}, {"residue": "Full Structure", "rmsd": 1.88}, {"residue": "Full Structure", "rmsd": 1.96}, {"residue": "Full Structure", "rmsd": 1.99}, {"residue": "Full Structure", "rmsd": 2.62}, {"residue": "Full Structure", "rmsd": 2.94}
    ]
  },
  "encoding": {
    "x": {
      "field": "residue",
      "type": "nominal",
      "sort": null,
      "scale": {
        "domain": ["CYS", "SER", "PRO", "THR", "VAL", "ASP", "ILE", "LEU", "ASN", "MET", "GLN", "LYS", "GLU", "HIS", "PHE", "ARG", "TYR", "TRP", "_gap1", "_gap2", "Full Structure"],
        "paddingInner": 0,
        "paddingOuter": 0
      },
      "axis": {
        "title": null,
        "values": ["CYS", "SER", "PRO", "THR", "VAL", "ASP", "ILE", "LEU", "ASN", "MET", "GLN", "LYS", "GLU", "HIS", "PHE", "ARG", "TYR", "TRP", "Full Structure"],
        "labelExpr": "datum.value == 'Full Structure' ? ['Full', 'Structure'] : datum.value",
        "labelAngle": {"expr": "datum.value == 'Full Structure' ? 0 : 270"},
        "labelAlign": {"expr": "datum.value == 'Full Structure' ? 'center' : 'right'"},
        "labelBaseline": {"expr": "datum.value == 'Full Structure' ? 'top' : 'middle'"},
        "labelFontSize": 22,
        "labelPadding": 8,
        "labelLineHeight": 25,
        "tickSize": 6,
        "tickWidth": 1.5,
        "grid": false,
        "labelOverlap": false,
        "labelBound": false
      }
    }
  },
  "layer": [
    {
      "data": {"name": "boxes"},
      "mark": {"type": "rule", "color": "black", "strokeWidth": 1.7},
      "encoding": {
        "y": {
          "field": "lo",
          "type": "quantitative",
          "scale": {"domain": [-0.14, 3.087], "nice": false, "zero": false},
          "axis": {
            "title": "RMSD",
            "titleFontSize": 31,
            "titleFontWeight": "normal",
            "titlePadding": 8,
            "values": [0, 0.5, 1, 1.5, 2, 2.5, 3],
            "format": ".1f",
            "labelFontSize": 22,
            "labelPadding": 10,
            "tickSize": 6,
            "tickWidth": 1.5,
            "grid": true,
            "gridColor": "#b0b0b0",
            "gridDash": [4, 2.5],
            "gridWidth": 1.1
          }
        },
        "y2": {"field": "hi"}
      }
    },
    {
      "data": {"name": "boxes"},
      "mark": {"type": "bar", "fill": "white", "stroke": "black", "strokeWidth": 1.7, "width": {"band": 0.5}},
      "encoding": {
        "y": {"field": "q1", "type": "quantitative"},
        "y2": {"field": "q3"}
      }
    },
    {
      "data": {"name": "boxes"},
      "mark": {"type": "tick", "color": "black", "size": 11.5, "thickness": 1.7, "opacity": 1},
      "encoding": {"y": {"field": "lo", "type": "quantitative"}}
    },
    {
      "data": {"name": "boxes"},
      "mark": {"type": "tick", "color": "black", "size": 11.5, "thickness": 1.7, "opacity": 1},
      "encoding": {"y": {"field": "hi", "type": "quantitative"}}
    },
    {
      "data": {"name": "boxes"},
      "mark": {"type": "tick", "color": "#ff7f0e", "size": 21, "thickness": 2.1, "opacity": 1},
      "encoding": {"y": {"field": "median", "type": "quantitative"}}
    },
    {
      "data": {"name": "outliers"},
      "mark": {"type": "point", "shape": "circle", "filled": false, "stroke": "black", "strokeWidth": 1.6, "size": 105, "opacity": 1},
      "encoding": {"y": {"field": "rmsd", "type": "quantitative"}}
    }
  ]
}
